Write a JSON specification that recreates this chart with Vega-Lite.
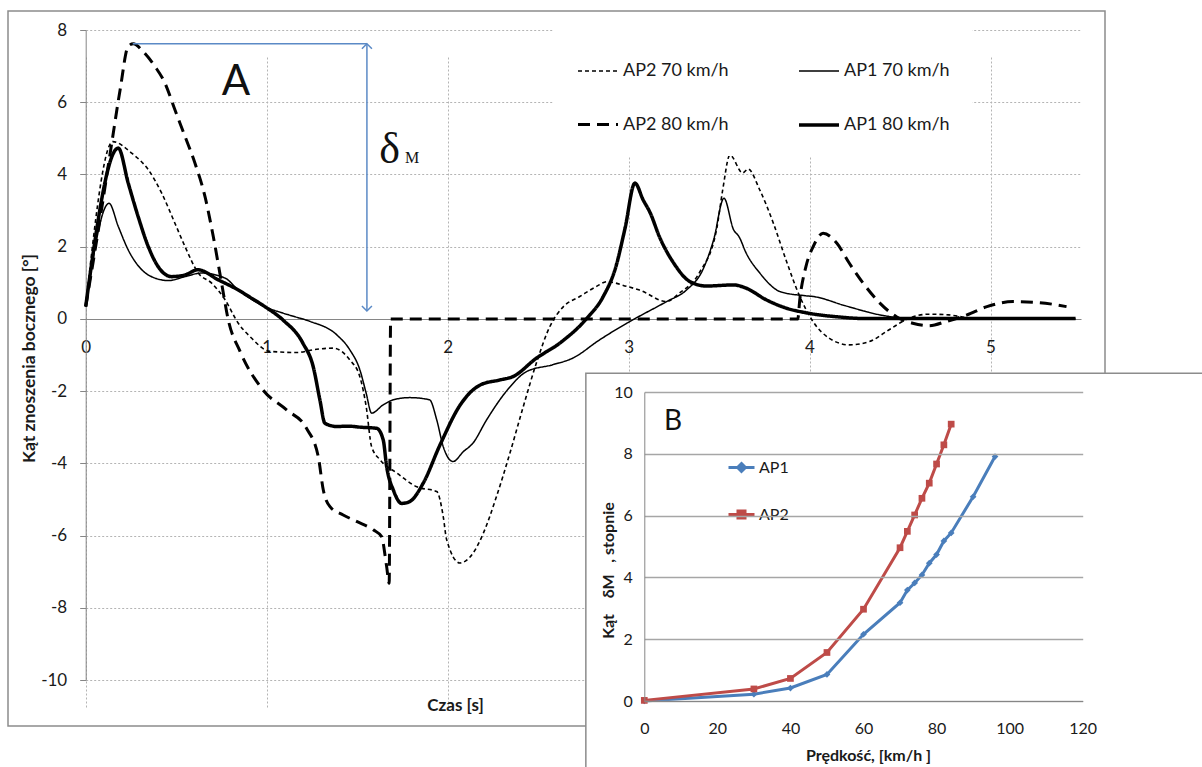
{
  "$schema": "https://vega.github.io/schema/vega-lite/v6.json",
  "width": 1097,
  "height": 715,
  "autosize": {"type": "none"},
  "padding": {"left": 8, "top": 11, "right": 97, "bottom": 41},
  "background": "white",
  "config": {
    "view": {"stroke": "#8c8c8c", "strokeWidth": 1.5},
    "font": "Lato",
    "axis": {"labelFont": "Lato", "titleFont": "Lato", "labelColor": "#1a1a1a", "titleColor": "#1a1a1a", "labelFlush": false, "labelOverlap": false}
  },
  "datasets": {
    "main": [
      {"s": "AP1 80 km/h", "t": 0, "v": 0.34}, {"s": "AP1 80 km/h", "t": 0.18, "v": 4.73}, {"s": "AP1 80 km/h", "t": 0.235, "v": 3.76}, {"s": "AP1 80 km/h", "t": 0.29, "v": 2.83}, {"s": "AP1 80 km/h", "t": 0.346, "v": 2.0}, {"s": "AP1 80 km/h", "t": 0.4, "v": 1.45}, {"s": "AP1 80 km/h", "t": 0.475, "v": 1.17}, {"s": "AP1 80 km/h", "t": 0.55, "v": 1.22}, {"s": "AP1 80 km/h", "t": 0.62, "v": 1.36}, {"s": "AP1 80 km/h", "t": 0.733, "v": 1.08}, {"s": "AP1 80 km/h", "t": 0.843, "v": 0.8}, {"s": "AP1 80 km/h", "t": 0.908, "v": 0.6}, {"s": "AP1 80 km/h", "t": 0.99, "v": 0.34}, {"s": "AP1 80 km/h", "t": 1.09, "v": -0.03}, {"s": "AP1 80 km/h", "t": 1.2, "v": -0.67}, {"s": "AP1 80 km/h", "t": 1.257, "v": -1.32}, {"s": "AP1 80 km/h", "t": 1.294, "v": -2.24}, {"s": "AP1 80 km/h", "t": 1.322, "v": -2.89}, {"s": "AP1 80 km/h", "t": 1.387, "v": -2.98}, {"s": "AP1 80 km/h", "t": 1.45, "v": -2.97}, {"s": "AP1 80 km/h", "t": 1.52, "v": -3.0}, {"s": "AP1 80 km/h", "t": 1.608, "v": -3.03}, {"s": "AP1 80 km/h", "t": 1.644, "v": -3.35}, {"s": "AP1 80 km/h", "t": 1.663, "v": -4.09}, {"s": "AP1 80 km/h", "t": 1.7, "v": -4.74}, {"s": "AP1 80 km/h", "t": 1.746, "v": -5.11}, {"s": "AP1 80 km/h", "t": 1.79, "v": -5.06}, {"s": "AP1 80 km/h", "t": 1.865, "v": -4.55}, {"s": "AP1 80 km/h", "t": 1.957, "v": -3.5}, {"s": "AP1 80 km/h", "t": 2.07, "v": -2.38}, {"s": "AP1 80 km/h", "t": 2.18, "v": -1.83}, {"s": "AP1 80 km/h", "t": 2.29, "v": -1.69}, {"s": "AP1 80 km/h", "t": 2.36, "v": -1.6}, {"s": "AP1 80 km/h", "t": 2.49, "v": -1.09}, {"s": "AP1 80 km/h", "t": 2.62, "v": -0.67}, {"s": "AP1 80 km/h", "t": 2.77, "v": 0.02}, {"s": "AP1 80 km/h", "t": 2.86, "v": 0.62}, {"s": "AP1 80 km/h", "t": 2.93, "v": 1.45}, {"s": "AP1 80 km/h", "t": 2.98, "v": 2.5}, {"s": "AP1 80 km/h", "t": 3.035, "v": 3.76}, {"s": "AP1 80 km/h", "t": 3.08, "v": 3.3}, {"s": "AP1 80 km/h", "t": 3.12, "v": 2.93}, {"s": "AP1 80 km/h", "t": 3.17, "v": 2.28}, {"s": "AP1 80 km/h", "t": 3.25, "v": 1.54}, {"s": "AP1 80 km/h", "t": 3.34, "v": 1.03}, {"s": "AP1 80 km/h", "t": 3.43, "v": 0.91}, {"s": "AP1 80 km/h", "t": 3.58, "v": 0.94}, {"s": "AP1 80 km/h", "t": 3.65, "v": 0.85}, {"s": "AP1 80 km/h", "t": 3.76, "v": 0.53}, {"s": "AP1 80 km/h", "t": 3.87, "v": 0.3}, {"s": "AP1 80 km/h", "t": 3.98, "v": 0.17}, {"s": "AP1 80 km/h", "t": 4.17, "v": 0.05}, {"s": "AP1 80 km/h", "t": 4.3, "v": 0.01}, {"s": "AP1 80 km/h", "t": 5.47, "v": 0.01},

      {"s": "AP1 70 km/h", "t": 0, "v": 0.34}, {"s": "AP1 70 km/h", "t": 0.129, "v": 3.2}, {"s": "AP1 70 km/h", "t": 0.18, "v": 2.56}, {"s": "AP1 70 km/h", "t": 0.235, "v": 1.91}, {"s": "AP1 70 km/h", "t": 0.31, "v": 1.36}, {"s": "AP1 70 km/h", "t": 0.383, "v": 1.13}, {"s": "AP1 70 km/h", "t": 0.457, "v": 1.06}, {"s": "AP1 70 km/h", "t": 0.549, "v": 1.17}, {"s": "AP1 70 km/h", "t": 0.64, "v": 1.27}, {"s": "AP1 70 km/h", "t": 0.77, "v": 1.13}, {"s": "AP1 70 km/h", "t": 0.843, "v": 0.8}, {"s": "AP1 70 km/h", "t": 0.908, "v": 0.57}, {"s": "AP1 70 km/h", "t": 0.99, "v": 0.34}, {"s": "AP1 70 km/h", "t": 1.09, "v": 0.16}, {"s": "AP1 70 km/h", "t": 1.156, "v": 0.06}, {"s": "AP1 70 km/h", "t": 1.24, "v": -0.07}, {"s": "AP1 70 km/h", "t": 1.387, "v": -0.44}, {"s": "AP1 70 km/h", "t": 1.46, "v": -0.86}, {"s": "AP1 70 km/h", "t": 1.515, "v": -1.41}, {"s": "AP1 70 km/h", "t": 1.55, "v": -2.06}, {"s": "AP1 70 km/h", "t": 1.58, "v": -2.61}, {"s": "AP1 70 km/h", "t": 1.644, "v": -2.38}, {"s": "AP1 70 km/h", "t": 1.7, "v": -2.24}, {"s": "AP1 70 km/h", "t": 1.79, "v": -2.18}, {"s": "AP1 70 km/h", "t": 1.9, "v": -2.24}, {"s": "AP1 70 km/h", "t": 1.94, "v": -2.8}, {"s": "AP1 70 km/h", "t": 1.976, "v": -3.54}, {"s": "AP1 70 km/h", "t": 2.03, "v": -3.95}, {"s": "AP1 70 km/h", "t": 2.086, "v": -3.68}, {"s": "AP1 70 km/h", "t": 2.14, "v": -3.44}, {"s": "AP1 70 km/h", "t": 2.215, "v": -2.8}, {"s": "AP1 70 km/h", "t": 2.33, "v": -1.97}, {"s": "AP1 70 km/h", "t": 2.436, "v": -1.46}, {"s": "AP1 70 km/h", "t": 2.58, "v": -1.27}, {"s": "AP1 70 km/h", "t": 2.69, "v": -1.09}, {"s": "AP1 70 km/h", "t": 2.84, "v": -0.58}, {"s": "AP1 70 km/h", "t": 2.99, "v": -0.12}, {"s": "AP1 70 km/h", "t": 3.04, "v": 0.02}, {"s": "AP1 70 km/h", "t": 3.21, "v": 0.48}, {"s": "AP1 70 km/h", "t": 3.32, "v": 0.8}, {"s": "AP1 70 km/h", "t": 3.41, "v": 1.36}, {"s": "AP1 70 km/h", "t": 3.47, "v": 2.19}, {"s": "AP1 70 km/h", "t": 3.527, "v": 3.34}, {"s": "AP1 70 km/h", "t": 3.58, "v": 2.47}, {"s": "AP1 70 km/h", "t": 3.61, "v": 2.28}, {"s": "AP1 70 km/h", "t": 3.65, "v": 1.82}, {"s": "AP1 70 km/h", "t": 3.725, "v": 1.27}, {"s": "AP1 70 km/h", "t": 3.84, "v": 0.75}, {"s": "AP1 70 km/h", "t": 3.98, "v": 0.64}, {"s": "AP1 70 km/h", "t": 4.02, "v": 0.62}, {"s": "AP1 70 km/h", "t": 4.2, "v": 0.36}, {"s": "AP1 70 km/h", "t": 4.39, "v": 0.11}, {"s": "AP1 70 km/h", "t": 4.6, "v": 0.0}, {"s": "AP1 70 km/h", "t": 5.47, "v": 0.0},

      {"s": "AP2 70 km/h", "t": 0, "v": 0.34}, {"s": "AP2 70 km/h", "t": 0.15, "v": 4.91}, {"s": "AP2 70 km/h", "t": 0.254, "v": 4.59}, {"s": "AP2 70 km/h", "t": 0.346, "v": 4.13}, {"s": "AP2 70 km/h", "t": 0.42, "v": 3.48}, {"s": "AP2 70 km/h", "t": 0.493, "v": 2.65}, {"s": "AP2 70 km/h", "t": 0.549, "v": 2.0}, {"s": "AP2 70 km/h", "t": 0.622, "v": 1.27}, {"s": "AP2 70 km/h", "t": 0.696, "v": 0.99}, {"s": "AP2 70 km/h", "t": 0.77, "v": 0.53}, {"s": "AP2 70 km/h", "t": 0.843, "v": -0.12}, {"s": "AP2 70 km/h", "t": 0.908, "v": -0.49}, {"s": "AP2 70 km/h", "t": 1.018, "v": -0.9}, {"s": "AP2 70 km/h", "t": 1.166, "v": -0.93}, {"s": "AP2 70 km/h", "t": 1.276, "v": -0.84}, {"s": "AP2 70 km/h", "t": 1.368, "v": -0.81}, {"s": "AP2 70 km/h", "t": 1.46, "v": -1.14}, {"s": "AP2 70 km/h", "t": 1.515, "v": -1.6}, {"s": "AP2 70 km/h", "t": 1.55, "v": -2.43}, {"s": "AP2 70 km/h", "t": 1.58, "v": -3.54}, {"s": "AP2 70 km/h", "t": 1.626, "v": -3.9}, {"s": "AP2 70 km/h", "t": 1.72, "v": -4.27}, {"s": "AP2 70 km/h", "t": 1.83, "v": -4.65}, {"s": "AP2 70 km/h", "t": 1.94, "v": -4.78}, {"s": "AP2 70 km/h", "t": 1.976, "v": -5.48}, {"s": "AP2 70 km/h", "t": 1.994, "v": -6.1}, {"s": "AP2 70 km/h", "t": 2.068, "v": -6.76}, {"s": "AP2 70 km/h", "t": 2.14, "v": -6.49}, {"s": "AP2 70 km/h", "t": 2.197, "v": -5.94}, {"s": "AP2 70 km/h", "t": 2.27, "v": -4.92}, {"s": "AP2 70 km/h", "t": 2.344, "v": -3.72}, {"s": "AP2 70 km/h", "t": 2.418, "v": -2.43}, {"s": "AP2 70 km/h", "t": 2.49, "v": -1.23}, {"s": "AP2 70 km/h", "t": 2.565, "v": -0.21}, {"s": "AP2 70 km/h", "t": 2.64, "v": 0.34}, {"s": "AP2 70 km/h", "t": 2.73, "v": 0.62}, {"s": "AP2 70 km/h", "t": 2.823, "v": 0.9}, {"s": "AP2 70 km/h", "t": 2.88, "v": 1.03}, {"s": "AP2 70 km/h", "t": 2.99, "v": 0.9}, {"s": "AP2 70 km/h", "t": 3.06, "v": 0.8}, {"s": "AP2 70 km/h", "t": 3.21, "v": 0.48}, {"s": "AP2 70 km/h", "t": 3.28, "v": 0.71}, {"s": "AP2 70 km/h", "t": 3.39, "v": 1.27}, {"s": "AP2 70 km/h", "t": 3.486, "v": 2.47}, {"s": "AP2 70 km/h", "t": 3.52, "v": 3.57}, {"s": "AP2 70 km/h", "t": 3.56, "v": 4.54}, {"s": "AP2 70 km/h", "t": 3.63, "v": 4.04}, {"s": "AP2 70 km/h", "t": 3.66, "v": 4.15}, {"s": "AP2 70 km/h", "t": 3.725, "v": 3.57}, {"s": "AP2 70 km/h", "t": 3.8, "v": 2.65}, {"s": "AP2 70 km/h", "t": 3.87, "v": 1.63}, {"s": "AP2 70 km/h", "t": 3.946, "v": 0.62}, {"s": "AP2 70 km/h", "t": 4.02, "v": -0.08}, {"s": "AP2 70 km/h", "t": 4.11, "v": -0.54}, {"s": "AP2 70 km/h", "t": 4.22, "v": -0.72}, {"s": "AP2 70 km/h", "t": 4.33, "v": -0.63}, {"s": "AP2 70 km/h", "t": 4.44, "v": -0.3}, {"s": "AP2 70 km/h", "t": 4.55, "v": 0.02}, {"s": "AP2 70 km/h", "t": 4.66, "v": 0.13}, {"s": "AP2 70 km/h", "t": 4.77, "v": 0.11}, {"s": "AP2 70 km/h", "t": 4.9, "v": 0.02}, {"s": "AP2 70 km/h", "t": 5.45, "v": 0.0},

      {"s": "AP2 80 km/h", "t": 0, "v": 0.34}, {"s": "AP2 80 km/h", "t": 0.07, "v": 2.47}, {"s": "AP2 80 km/h", "t": 0.144, "v": 4.87}, {"s": "AP2 80 km/h", "t": 0.19, "v": 6.34}, {"s": "AP2 80 km/h", "t": 0.235, "v": 7.55}, {"s": "AP2 80 km/h", "t": 0.263, "v": 7.62}, {"s": "AP2 80 km/h", "t": 0.318, "v": 7.4}, {"s": "AP2 80 km/h", "t": 0.383, "v": 6.99}, {"s": "AP2 80 km/h", "t": 0.438, "v": 6.53}, {"s": "AP2 80 km/h", "t": 0.493, "v": 5.79}, {"s": "AP2 80 km/h", "t": 0.549, "v": 5.05}, {"s": "AP2 80 km/h", "t": 0.604, "v": 4.31}, {"s": "AP2 80 km/h", "t": 0.659, "v": 3.39}, {"s": "AP2 80 km/h", "t": 0.705, "v": 2.28}, {"s": "AP2 80 km/h", "t": 0.751, "v": 0.99}, {"s": "AP2 80 km/h", "t": 0.788, "v": -0.03}, {"s": "AP2 80 km/h", "t": 0.853, "v": -0.9}, {"s": "AP2 80 km/h", "t": 0.98, "v": -1.97}, {"s": "AP2 80 km/h", "t": 1.11, "v": -2.52}, {"s": "AP2 80 km/h", "t": 1.22, "v": -3.03}, {"s": "AP2 80 km/h", "t": 1.285, "v": -3.81}, {"s": "AP2 80 km/h", "t": 1.313, "v": -4.74}, {"s": "AP2 80 km/h", "t": 1.35, "v": -5.2}, {"s": "AP2 80 km/h", "t": 1.423, "v": -5.43}, {"s": "AP2 80 km/h", "t": 1.497, "v": -5.61}, {"s": "AP2 80 km/h", "t": 1.589, "v": -5.84}, {"s": "AP2 80 km/h", "t": 1.635, "v": -6.03}, {"s": "AP2 80 km/h", "t": 1.663, "v": -6.86}, {"s": "AP2 80 km/h", "t": 1.677, "v": -7.32}, {"s": "AP2 80 km/h", "t": 1.685, "v": 0}, {"s": "AP2 80 km/h", "t": 3.935, "v": 0}, {"s": "AP2 80 km/h", "t": 3.946, "v": 0.53}, {"s": "AP2 80 km/h", "t": 3.98, "v": 1.45}, {"s": "AP2 80 km/h", "t": 4.02, "v": 2.0}, {"s": "AP2 80 km/h", "t": 4.075, "v": 2.37}, {"s": "AP2 80 km/h", "t": 4.15, "v": 2.1}, {"s": "AP2 80 km/h", "t": 4.22, "v": 1.54}, {"s": "AP2 80 km/h", "t": 4.296, "v": 0.99}, {"s": "AP2 80 km/h", "t": 4.39, "v": 0.43}, {"s": "AP2 80 km/h", "t": 4.48, "v": 0.06}, {"s": "AP2 80 km/h", "t": 4.57, "v": -0.12}, {"s": "AP2 80 km/h", "t": 4.66, "v": -0.19}, {"s": "AP2 80 km/h", "t": 4.757, "v": -0.07}, {"s": "AP2 80 km/h", "t": 4.87, "v": 0.11}, {"s": "AP2 80 km/h", "t": 4.98, "v": 0.34}, {"s": "AP2 80 km/h", "t": 5.125, "v": 0.48}, {"s": "AP2 80 km/h", "t": 5.27, "v": 0.45}, {"s": "AP2 80 km/h", "t": 5.42, "v": 0.34}
    ],
    "inset": [
      {"ap": "AP1", "speed": 0, "d": 0}, {"ap": "AP1", "speed": 30, "d": 0.22}, {"ap": "AP1", "speed": 40, "d": 0.42}, {"ap": "AP1", "speed": 50, "d": 0.86}, {"ap": "AP1", "speed": 60, "d": 2.16}, {"ap": "AP1", "speed": 70, "d": 3.18}, {"ap": "AP1", "speed": 72, "d": 3.59}, {"ap": "AP1", "speed": 74, "d": 3.82}, {"ap": "AP1", "speed": 76, "d": 4.08}, {"ap": "AP1", "speed": 78, "d": 4.46}, {"ap": "AP1", "speed": 80, "d": 4.74}, {"ap": "AP1", "speed": 82, "d": 5.18}, {"ap": "AP1", "speed": 84, "d": 5.44}, {"ap": "AP1", "speed": 90, "d": 6.61}, {"ap": "AP1", "speed": 96, "d": 7.91},
      {"ap": "AP2", "speed": 0, "d": 0.02}, {"ap": "AP2", "speed": 30, "d": 0.39}, {"ap": "AP2", "speed": 40, "d": 0.73}, {"ap": "AP2", "speed": 50, "d": 1.57}, {"ap": "AP2", "speed": 60, "d": 2.97}, {"ap": "AP2", "speed": 70, "d": 4.96}, {"ap": "AP2", "speed": 72, "d": 5.49}, {"ap": "AP2", "speed": 74, "d": 6.02}, {"ap": "AP2", "speed": 76, "d": 6.56}, {"ap": "AP2", "speed": 78, "d": 7.05}, {"ap": "AP2", "speed": 80, "d": 7.67}, {"ap": "AP2", "speed": 82, "d": 8.29}, {"ap": "AP2", "speed": 84, "d": 8.96}
    ]
  },
  "layer": [
    {
      "data": {"name": "main"},
      "mark": {"type": "line", "color": "black", "strokeCap": "butt", "strokeJoin": "round", "interpolate": "monotone"},
      "encoding": {
        "x": {"field": "t", "type": "quantitative",
          "scale": {"domain": [0, 5.5], "range": [77.7, 1073], "nice": false, "zero": false},
          "axis": {"orient": "bottom", "offset": -407, "values": [0, 1, 2, 3, 4, 5], "grid": true, "gridColor": "#b4b4b4", "gridDash": [2, 2], "ticks": false, "labelPadding": 20, "labelFontSize": 17, "domainColor": "#868686", "title": "Czas [s]", "titleFontSize": 17, "titleFontWeight": "bold", "titleX": 447, "titleY": 386, "titleAlign": "center", "titleBaseline": "middle"}},
        "y": {"field": "v", "type": "quantitative",
          "scale": {"domain": [-10, 8], "range": [669, 19], "nice": false, "zero": false},
          "axis": {"orient": "left", "offset": -77.7, "values": [-10, -8, -6, -4, -2, 0, 2, 4, 6, 8], "labelExpr": "replace(datum.label, '−', '-')", "grid": true, "gridColor": "#b4b4b4", "gridDash": [2, 2], "tickColor": "#868686", "tickSize": 6, "labelPadding": 13, "labelFontSize": 17, "domainColor": "#868686", "title": "Kąt znoszenia bocznego [°]", "titleFontSize": 17.5, "titleFontWeight": "bold", "titleX": -56, "titleY": 347, "titleAngle": -90, "titleAlign": "center", "titleBaseline": "middle"}},
        "strokeDash": {"field": "s", "type": "ordinal",
          "scale": {"type": "ordinal", "domain": ["AP2 70 km/h", "AP2 80 km/h", "AP1 70 km/h", "AP1 80 km/h"], "range": [[4, 3], [12, 7], [1, 0], [1, 0]]},
          "legend": {"orient": "none", "legendX": 546, "legendY": 17, "columns": 2, "title": null, "symbolType": "stroke", "symbolSize": 1600, "symbolStrokeColor": "black", "labelFontSize": 18, "labelFont": "Lato", "labelColor": "#1a1a1a", "fillColor": "white", "padding": 22, "rowPadding": 23, "columnPadding": 63, "labelOffset": 3, "labelLimit": 300,
            "encode": {"symbols": {"update": {"strokeWidth": {"signal": "datum.value === 'AP1 80 km/h' ? 3.5 : datum.value === 'AP2 80 km/h' ? 3 : 1.5"}}}}}},
        "strokeWidth": {"field": "s", "type": "ordinal",
          "scale": {"type": "ordinal", "domain": ["AP2 70 km/h", "AP2 80 km/h", "AP1 70 km/h", "AP1 80 km/h"], "range": [1.6, 3, 1.5, 3.5]},
          "legend": null}
      }
    },
    {
      "data": {"values": [{}]},
      "mark": {"type": "rule", "color": "#5b8ac6", "strokeWidth": 1.5},
      "encoding": {
        "x": {"datum": 0.26, "type": "quantitative", "scale": {"domain": [0, 5.5], "range": [77.7, 1073], "nice": false, "zero": false}, "axis": null},
        "x2": {"datum": 1.554},
        "y": {"datum": 7.62, "type": "quantitative", "scale": {"domain": [-10, 8], "range": [669, 19], "nice": false, "zero": false}, "axis": null}
      }
    },
    {
      "data": {"values": [{}]},
      "mark": {"type": "rule", "color": "#5b8ac6", "strokeWidth": 1.5},
      "encoding": {
        "x": {"datum": 1.554, "type": "quantitative", "scale": {"domain": [0, 5.5], "range": [77.7, 1073], "nice": false, "zero": false}, "axis": null},
        "y": {"datum": 7.62, "type": "quantitative", "scale": {"domain": [-10, 8], "range": [669, 19], "nice": false, "zero": false}, "axis": null},
        "y2": {"datum": 0.22}
      }
    },
    {
      "data": {"values": [{}]},
      "mark": {"type": "point", "shape": "M-1,1L0,0L1,1", "size": 100, "filled": false, "color": "#5b8ac6", "strokeWidth": 1.5, "opacity": 1},
      "encoding": {
        "x": {"datum": 1.554, "type": "quantitative", "scale": {"domain": [0, 5.5], "range": [77.7, 1073], "nice": false, "zero": false}, "axis": null},
        "y": {"datum": 7.62, "type": "quantitative", "scale": {"domain": [-10, 8], "range": [669, 19], "nice": false, "zero": false}, "axis": null}
      }
    },
    {
      "data": {"values": [{}]},
      "mark": {"type": "point", "shape": "M-1,-1L0,0L1,-1", "size": 100, "filled": false, "color": "#5b8ac6", "strokeWidth": 1.5, "opacity": 1},
      "encoding": {
        "x": {"datum": 1.554, "type": "quantitative", "scale": {"domain": [0, 5.5], "range": [77.7, 1073], "nice": false, "zero": false}, "axis": null},
        "y": {"datum": 0.22, "type": "quantitative", "scale": {"domain": [-10, 8], "range": [669, 19], "nice": false, "zero": false}, "axis": null}
      }
    },
    {
      "data": {"values": [{}]},
      "mark": {"type": "text", "text": "A", "font": "Lato", "fontSize": 42, "color": "#111111", "align": "center", "baseline": "middle"},
      "encoding": {
        "x": {"datum": 0.83, "type": "quantitative", "scale": {"domain": [0, 5.5], "range": [77.7, 1073], "nice": false, "zero": false}, "axis": null},
        "y": {"datum": 6.57, "type": "quantitative", "scale": {"domain": [-10, 8], "range": [669, 19], "nice": false, "zero": false}, "axis": null}
      }
    },
    {
      "data": {"values": [{}]},
      "mark": {"type": "text", "text": "δ", "font": "Liberation Serif", "fontSize": 44, "color": "#111111", "align": "left", "baseline": "alphabetic"},
      "encoding": {
        "x": {"datum": 1.622, "type": "quantitative", "scale": {"domain": [0, 5.5], "range": [77.7, 1073], "nice": false, "zero": false}, "axis": null},
        "y": {"datum": 4.32, "type": "quantitative", "scale": {"domain": [-10, 8], "range": [669, 19], "nice": false, "zero": false}, "axis": null}
      }
    },
    {
      "data": {"values": [{}]},
      "mark": {"type": "text", "text": "M", "font": "Liberation Serif", "fontSize": 16, "color": "#111111", "align": "left", "baseline": "alphabetic"},
      "encoding": {
        "x": {"datum": 1.764, "type": "quantitative", "scale": {"domain": [0, 5.5], "range": [77.7, 1073], "nice": false, "zero": false}, "axis": null},
        "y": {"datum": 4.32, "type": "quantitative", "scale": {"domain": [-10, 8], "range": [669, 19], "nice": false, "zero": false}, "axis": null}
      }
    },
    {
      "data": {"values": [{}]},
      "mark": {"type": "rect", "fill": "white", "stroke": "#8c8c8c", "strokeWidth": 1.5},
      "encoding": {
        "x": {"datum": -16, "type": "quantitative", "scale": {"domain": [0, 120], "range": [636.3, 1074.7], "nice": false, "zero": false}, "axis": null},
        "x2": {"datum": 160},
        "y": {"datum": 10.61, "type": "quantitative", "scale": {"domain": [0, 10], "range": [690, 381], "nice": false, "zero": false}, "axis": null},
        "y2": {"datum": -3}
      }
    },
    {
      "data": {"name": "inset"},
      "mark": {"type": "line", "strokeWidth": 3},
      "encoding": {
        "x": {"field": "speed", "type": "quantitative",
          "scale": {"domain": [0, 120], "range": [636.3, 1074.7], "nice": false, "zero": false},
          "axis": {"orient": "bottom", "offset": -25, "values": [0, 20, 40, 60, 80, 100, 120], "grid": false, "ticks": false, "labelPadding": 19, "labelFontSize": 16, "domainColor": "#868686", "title": "Prędkość, [km/h ]", "titleFontSize": 16, "titleFontWeight": "bold", "titleX": 860, "titleY": 54, "titleAlign": "center", "titleBaseline": "middle", "zindex": 1}},
        "y": {"field": "d", "type": "quantitative",
          "scale": {"domain": [0, 10], "range": [690, 381], "nice": false, "zero": false},
          "axis": {"orient": "left", "offset": -636.3, "values": [0, 2, 4, 6, 8, 10], "grid": true, "gridColor": "#a6a6a6", "gridWidth": 1.3, "ticks": false, "labelPadding": 12, "labelFontSize": 16, "domainColor": "#868686", "title": "Kąt\u00a0\u00a0\u00a0\u00a0δM\u00a0\u00a0\u00a0, stopnie", "titleFontSize": 16, "titleFontWeight": "bold", "titleX": -36.3, "titleY": 559, "titleAngle": -90, "titleAlign": "center", "titleBaseline": "middle", "zindex": 1}},
        "color": {"field": "ap", "type": "nominal",
          "scale": {"domain": ["AP1", "AP2"], "range": ["#4a7ebb", "#be4b48"]},
          "legend": {"orient": "none", "legendX": 694, "legendY": 417, "title": null, "padding": 25, "fillColor": "white", "symbolSize": 676, "symbolStrokeWidth": 3, "labelFontSize": 16, "labelFont": "Lato", "labelColor": "#1a1a1a", "rowPadding": 22, "labelOffset": 3,
            "encode": {"symbols": {"update": {
              "shape": {"signal": "datum.value === 'AP1' ? 'M-1,0L1,0M0,-0.3L0.3,0L0,0.3L-0.3,0Z' : 'M-1,0L1,0M-0.27,-0.27L0.27,-0.27L0.27,0.27L-0.27,0.27Z'"},
              "fill": {"signal": "datum.value === 'AP1' ? '#4a7ebb' : '#be4b48'"},
              "stroke": {"signal": "datum.value === 'AP1' ? '#4a7ebb' : '#be4b48'"},
              "strokeWidth": {"value": 3},
              "opacity": {"value": 1}
            }}}}}
      }
    },
    {
      "data": {"name": "inset"},
      "transform": [{"filter": "datum.ap === 'AP1'"}],
      "mark": {"type": "point", "filled": true, "size": 45, "opacity": 1, "shape": "diamond", "color": "#4a7ebb"},
      "encoding": {
        "x": {"field": "speed", "type": "quantitative", "scale": {"domain": [0, 120], "range": [636.3, 1074.7], "nice": false, "zero": false}, "axis": null},
        "y": {"field": "d", "type": "quantitative", "scale": {"domain": [0, 10], "range": [690, 381], "nice": false, "zero": false}, "axis": null}
      }
    },
    {
      "data": {"name": "inset"},
      "transform": [{"filter": "datum.ap === 'AP2'"}],
      "mark": {"type": "point", "filled": true, "size": 45, "opacity": 1, "shape": "square", "color": "#be4b48"},
      "encoding": {
        "x": {"field": "speed", "type": "quantitative", "scale": {"domain": [0, 120], "range": [636.3, 1074.7], "nice": false, "zero": false}, "axis": null},
        "y": {"field": "d", "type": "quantitative", "scale": {"domain": [0, 10], "range": [690, 381], "nice": false, "zero": false}, "axis": null}
      }
    },
    {
      "data": {"values": [{}]},
      "mark": {"type": "text", "text": "B", "font": "Lato", "fontSize": 28, "color": "#111111", "align": "center", "baseline": "middle"},
      "encoding": {
        "x": {"datum": 7.86, "type": "quantitative", "scale": {"domain": [0, 120], "range": [636.3, 1074.7], "nice": false, "zero": false}, "axis": null},
        "y": {"datum": 9.03, "type": "quantitative", "scale": {"domain": [0, 10], "range": [690, 381], "nice": false, "zero": false}, "axis": null}
      }
    }
  ],
  "resolve": {"scale": {"x": "independent", "y": "independent"}, "axis": {"x": "independent", "y": "independent"}}
}
